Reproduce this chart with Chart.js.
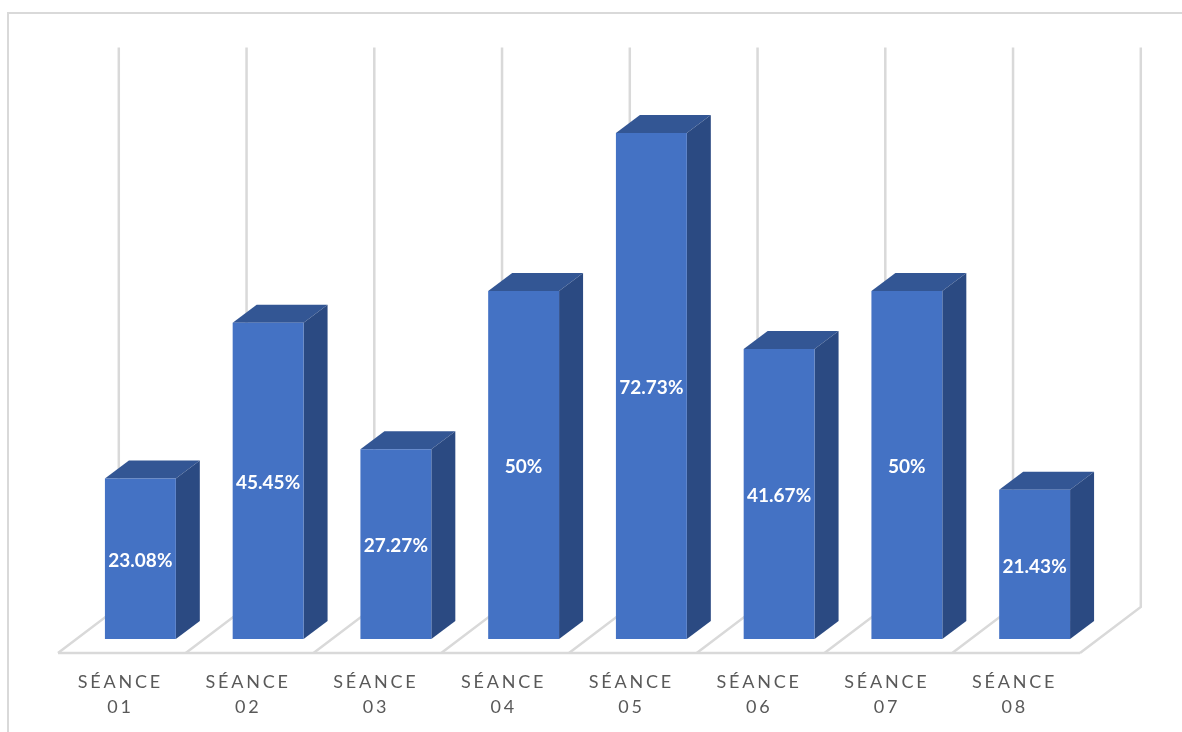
<!DOCTYPE html>
<html>
<head>
<meta charset="utf-8">
<style>html,body{margin:0;padding:0;background:#fff}canvas{display:block}</style>
<script src="https://cdn.jsdelivr.net/npm/chart.js@4"></script>
</head>
<body>
<canvas id="c" width="1182" height="732"></canvas>
<script>
const categories = [["SÉANCE","01"],["SÉANCE","02"],["SÉANCE","03"],["SÉANCE","04"],["SÉANCE","05"],["SÉANCE","06"],["SÉANCE","07"],["SÉANCE","08"]];
const seriesValues = [23.08,45.45,27.27,50,72.73,41.67,50,21.43];
const axisMax = 85;

const frontColor = '#4472C4', topColor = '#335694', sideColor = '#2B4A82', gridColor = '#D9D9D9';
const depthX = 24, depthY = 18;

const scene3d = {
  id: 'scene3d',
  beforeDraw(chart) {
    const c = chart.ctx;
    c.save();
    c.strokeStyle = gridColor; c.lineWidth = 2;
    c.beginPath(); c.moveTo(8, 732); c.lineTo(8, 13); c.lineTo(1182, 13); c.stroke();
    c.restore();
    c.letterSpacing = '2.8px';
  },
  beforeDatasetsDraw(chart) {
    const c = chart.ctx, x = chart.scales.x, y = chart.scales.y;
    const band = x.getPixelForValue(1) - x.getPixelForValue(0);
    const base = y.getPixelForValue(0);
    const left = x.left;
    c.save();
    c.letterSpacing = '0px';
    c.strokeStyle = gridColor; c.lineWidth = 2.5; c.lineCap = 'butt';
    const frontY = base + 14, backY = base - 32;
    for (let i = 0; i <= categories.length; i++) {
      const fx = left - 18.5 + band * i, bx = left + 42.3 + band * i;
      c.beginPath();
      c.moveTo(bx, y.top); c.lineTo(bx, backY); c.lineTo(fx, frontY);
      c.stroke();
    }
    c.beginPath(); c.moveTo(left - 18.5, frontY); c.lineTo(x.right - 18.5, frontY); c.stroke();
    chart.getDatasetMeta(0).data.forEach(b => {
      const p = b.getProps(['x','y','base','width'], true);
      const l = p.x - p.width / 2, r = p.x + p.width / 2;
      c.fillStyle = topColor;
      c.beginPath(); c.moveTo(l, p.y); c.lineTo(l + depthX, p.y - depthY); c.lineTo(r + depthX, p.y - depthY); c.lineTo(r, p.y); c.closePath(); c.fill();
      c.fillStyle = sideColor;
      c.beginPath(); c.moveTo(r, p.y); c.lineTo(r + depthX, p.y - depthY); c.lineTo(r + depthX, p.base - depthY); c.lineTo(r, p.base); c.closePath(); c.fill();
    });
    c.restore();
  },
  afterDatasetsDraw(chart) {
    const c = chart.ctx;
    c.save();
    c.letterSpacing = '0px';
    c.fillStyle = '#fff';
    c.font = 'bold 19px Lato';
    c.textAlign = 'center'; c.textBaseline = 'middle';
    chart.getDatasetMeta(0).data.forEach((b, i) => {
      const p = b.getProps(['x','y','base'], true);
      c.fillText(seriesValues[i] + '%', p.x, (p.y + p.base) / 2 + 2);
    });
    c.restore();
  }
};

new Chart(document.getElementById('c'), {
  type: 'bar',
  data: { labels: categories, datasets: [{ data: seriesValues, backgroundColor: frontColor, barPercentage: 0.555, categoryPercentage: 1 }] },
  plugins: [scene3d],
  options: {
    responsive: false, animation: false,
    layout: { padding: { left: 76.5, right: 83.5, top: 47.5, bottom: 0 } },
    plugins: { legend: { display: false }, tooltip: { enabled: false } },
    scales: {
      x: {
        afterFit(s) { s.height = 93; },
        grid: { display: false }, border: { display: false },
        ticks: { autoSkip: false, maxRotation: 0, minRotation: 0, labelOffset: -20, padding: 23, color: '#595959',
                 font: { family: 'Lato', size: 18, lineHeight: 25/18 } }
      },
      y: { display: false, min: 0, max: axisMax }
    }
  }
});
</script>
</body>
</html>
